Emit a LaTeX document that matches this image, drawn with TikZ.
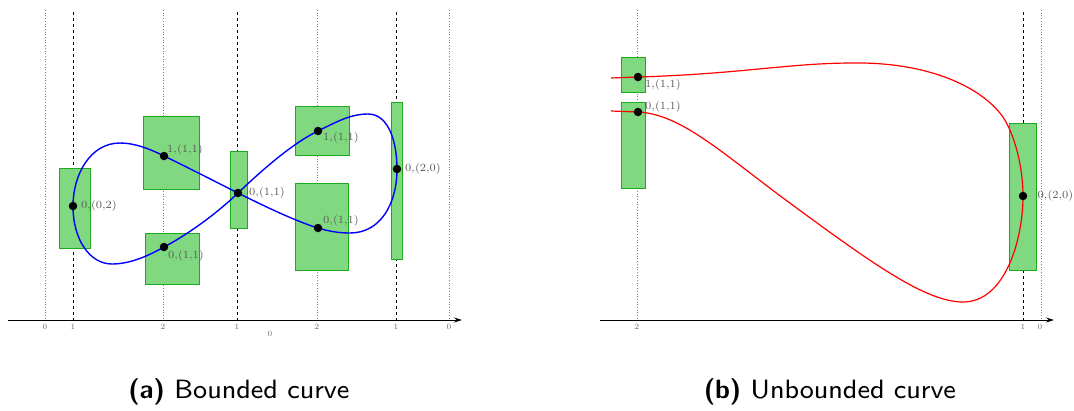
\documentclass[tikz,border=0pt]{standalone}
\usetikzlibrary{arrows.meta}
\definecolor{boxfill}{RGB}{128,216,128}
\definecolor{boxdraw}{RGB}{30,170,30}
\font\capfont=cmss8 at 26.5pt
\font\capbold=cmssbx10 at 26.5pt
\font\lblfont=cmr7 at 11pt
\font\tickfont=cmr7 at 8pt
\tikzset{
  box/.style={draw=boxdraw, fill=boxfill, line width=0.9pt},
  dot/.style={circle, fill=black, inner sep=0pt, minimum size=8.5pt},
  lbl/.style={text=black!65, font=\lblfont, inner sep=1pt},
  tick/.style={text=black!60, font=\tickfont, inner sep=0pt},
  dotline/.style={black!50, dotted, line width=0.7pt},
  dashline/.style={black, dashed, line width=0.8pt},
  axis/.style={black, line width=0.8pt, -{Stealth[length=8pt,width=5pt]}},
  captext/.style={font=\capfont, inner sep=0pt}
}
\begin{document}
\begin{tikzpicture}[x=1pt,y=-1pt]
\useasboundingbox (0,0) rectangle (1074,410);
% ---------------- panel (a) ----------------
\foreach \x in {45,163,317,449} \draw[dotline] (\x,10) -- (\x,320);
\foreach \x in {73,237,396} \draw[dashline] (\x,12) -- (\x,320);
\coordinate (aL) at (8,320);
\coordinate (aR) at (462,320);
\draw[axis] (aL) -- (aR);
\node[tick] (ta1) at (45,327) {0};
\node[tick] (ta2) at (73,327) {1};
\node[tick] (ta3) at (163,327) {2};
\node[tick] (ta4) at (237,327) {1};
\node[tick] (ta5) at (317,327) {2};
\node[tick] (ta6) at (396,327) {1};
\node[tick] (ta7) at (449,327) {0};
\node[tick] (ta8) at (270,334) {0};
% boxes
\draw[box] (59,168) rectangle (90,248);
\draw[box] (143,116) rectangle (199,189);
\draw[box] (145,233) rectangle (199,284);
\draw[box] (230,151) rectangle (247,228);
\draw[box] (295,106) rectangle (349,155);
\draw[box] (295,183) rectangle (348,270);
\draw[box] (391,102) rectangle (402,259);
% curve
\draw[blue, line width=1.4pt]
  (238,193) .. controls (262,170) and (293,143) .. (318,131)
  .. controls (340,120) and (352,114) .. (368,114)
  .. controls (390,114) and (397,145) .. (397,169)
  .. controls (397,203) and (381,233) .. (350,233)
  .. controls (338,233) and (328,231) .. (318,228)
  .. controls (295,221) and (262,205) .. (238,193)
  .. controls (214,181) and (185,166) .. (164,156)
  .. controls (150,149) and (135,143) .. (120,143)
  .. controls (90,143) and (73,175) .. (73,206)
  .. controls (73,240) and (90,264) .. (112,264)
  .. controls (130,264) and (148,256) .. (164,247)
  .. controls (185,236) and (214,216) .. (238,193) -- cycle;
% dots
\node[dot] (a1) at (73,206) {};
\node[dot] (a2) at (164,156) {};
\node[dot] (a3) at (164,247) {};
\node[dot] (a4) at (238,193) {};
\node[dot] (a5) at (318,131) {};
\node[dot] (a6) at (318,228) {};
\node[dot] (a7) at (397,169) {};
\node[lbl, anchor=west] (la1) at (80,206) {0,(0,2)};
\node[lbl, anchor=west] (la2) at (166,150) {1,(1,1)};
\node[lbl, anchor=west] (la3) at (167,256) {0,(1,1)};
\node[lbl, anchor=west] (la4) at (248,193) {0,(1,1)};
\node[lbl, anchor=west] (la5) at (322,138) {1,(1,1)};
\node[lbl, anchor=west] (la6) at (322,221) {0,(1,1)};
\node[lbl, anchor=west] (la7) at (404,169) {0,(2,0)};
\node[captext] (capa) at (239,392) {{\capbold(a)} Bounded curve};
% ---------------- panel (b) ----------------
\draw[dotline] (637,10) -- (637,320);
\draw[dotline] (1041,10) -- (1041,320);
\draw[dashline] (1023,12) -- (1023,320);
\coordinate (bL) at (600,320);
\coordinate (bR) at (1054,320);
\draw[axis] (bL) -- (bR);
\node[tick] (tb1) at (637,327) {2};
\node[tick] (tb2) at (1023,327) {1};
\node[tick] (tb3) at (1040,327) {0};
\draw[box] (621,57) rectangle (645,92);
\draw[box] (621,102) rectangle (645,188);
\draw[box] (1009,123) rectangle (1036,270);
\draw[red, line width=1.2pt]
  (611,78) -- (638,77)
  .. controls (740,74) and (790,63) .. (853,63)
  .. controls (925,62) and (980,85) .. (1003,117)
  .. controls (1016,137) and (1023,170) .. (1023,196)
  .. controls (1023,240) and (1005,302) .. (963,302)
  .. controls (925,302) and (870,262) .. (783,198)
  .. controls (720,151) and (680,114) .. (638,112)
  -- (611,111);
\node[dot] (b1) at (638,77) {};
\node[dot] (b2) at (638,112) {};
\node[dot] (b3) at (1023,196) {};
\node[lbl, anchor=west] (lb1) at (644,85) {1,(1,1)};
\node[lbl, anchor=west] (lb2) at (644,107) {0,(1,1)};
\node[lbl, anchor=west, inner sep=0pt] (lb3) at (1037.5,196) {0,(2,0)};
\node[captext] (capb) at (830,392) {{\capbold(b)} Unbounded curve};
\end{tikzpicture}
\end{document}
